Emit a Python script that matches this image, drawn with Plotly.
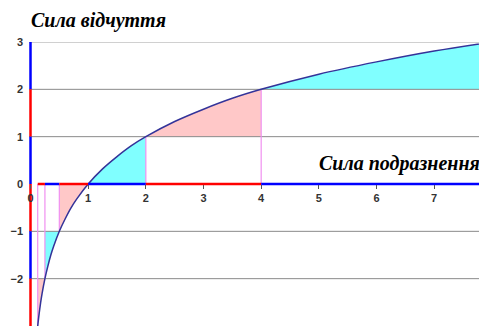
import plotly.graph_objects as go

# === Data ===
curve_x = [0.125, 0.15, 0.175, 0.2, 0.25, 0.3, 0.35, 0.4, 0.5, 0.6, 0.7, 0.8, 1.0,
           1.25, 1.5, 1.75, 2.0, 2.5, 3.0, 3.5, 4.0, 5.0, 6.0, 7.0, 8.0]
curve_y = [-3.0, -2.74, -2.51, -2.32, -2.0, -1.74, -1.51, -1.32, -1.0, -0.74, -0.51, -0.32, 0.0,
           0.32, 0.58, 0.81, 1.0, 1.32, 1.58, 1.81, 2.0, 2.32, 2.58, 2.81, 3.0]

# shaded pieces between the curve and a level line
fill_from = [0.125, 0.25, 0.5, 1, 2, 4]
fill_to = [0.25, 0.5, 1, 2, 4, 8]
fill_level = [-2, -1, 0, 0, 1, 2]
fill_colors = ["#ffc8c8", "#80ffff", "#ffc8c8", "#80ffff", "#ffc8c8", "#80ffff"]

# vertical drop lines from the x axis to the curve
drop_x = [0.125, 0.25, 0.5, 2, 4]
drop_y = [-3, -2, -1, 1, 2]

# coloured pieces of the axes
x_seg_bounds = [0.125, 0.25, 0.5, 1, 2, 4, 8]
x_seg_colors = ["#ff0000", "#0000ff", "#ff0000", "#0000ff", "#ff0000", "#0000ff"]
y_seg_bounds = [3, 2, 1, 0, -1, -2, -3]
y_seg_colors = ["#0000ff", "#ff0000", "#0000ff", "#ff0000", "#0000ff", "#ff0000"]

x_ticks = [0, 1, 2, 3, 4, 5, 6, 7]
y_ticks = [-3, -2, -1, 0, 1, 2, 3]

fig = go.Figure()

# fills
for lo, hi, lev, col in zip(fill_from, fill_to, fill_level, fill_colors):
    xs = [x for x in curve_x if lo <= x <= hi]
    ys = [y for x, y in zip(curve_x, curve_y) if lo <= x <= hi]
    fig.add_trace(go.Scatter(x=[lo, hi], y=[lev, lev], mode="lines",
                             line=dict(width=0), hoverinfo="skip"))
    fig.add_trace(go.Scatter(x=xs, y=ys, mode="lines", line=dict(width=0),
                             fill="tonexty", fillcolor=col, hoverinfo="skip"))

# gridlines on top of the fills
for yv in [2, 1, -1, -2]:
    fig.add_trace(go.Scatter(x=[-0.1, 8.5], y=[yv, yv], mode="lines",
                             line=dict(color="#8a8a8a", width=1), hoverinfo="skip"))
fig.add_trace(go.Scatter(x=[-0.1, 8.5], y=[3, 3], mode="lines",
                         line=dict(color="#d0d0d0", width=2), hoverinfo="skip"))

# drop lines
for dx, dy in zip(drop_x, drop_y):
    fig.add_trace(go.Scatter(x=[dx, dx], y=[0, dy], mode="lines",
                             line=dict(color="#f090f0", width=1.2), hoverinfo="skip"))

# the curve
fig.add_trace(go.Scatter(x=curve_x, y=curve_y, mode="lines", line_shape="spline",
                         line=dict(color="#333399", width=1.5)))

# coloured axes
for i, col in enumerate(x_seg_colors):
    fig.add_trace(go.Scatter(x=[x_seg_bounds[i], x_seg_bounds[i + 1]], y=[0, 0], mode="lines",
                             line=dict(color=col, width=2.5), hoverinfo="skip"))
for i, col in enumerate(y_seg_colors):
    fig.add_trace(go.Scatter(x=[0, 0], y=[y_seg_bounds[i], y_seg_bounds[i + 1]], mode="lines",
                             line=dict(color=col, width=2.5), hoverinfo="skip"))

tick_font = dict(family="Liberation Sans, Arial", size=11, color="#333333", weight="bold")

# page body has an 8px margin, so the figure is a bit smaller and shifted
fig.update_layout(
    width=479, height=318,
    margin=dict(l=21, r=0, t=34, b=0),
    paper_bgcolor="white", plot_bgcolor="white",
    showlegend=False,
    xaxis=dict(range=[-0.026, 7.916], tickvals=x_ticks, showgrid=False, zeroline=False,
               showline=False, ticks="outside", ticklen=4, tickcolor="#555555",
               anchor="free", position=0.5, tickfont=tick_font, automargin=False),
    yaxis=dict(range=[-3, 3], tickvals=y_ticks, showgrid=False, zeroline=False,
               showline=False, ticks="", ticklabelstandoff=5, tickfont=tick_font,
               automargin=False),
)

title_font = dict(family="Liberation Serif, Times New Roman", size=20, color="black",
                  weight="bold", style="italic")
fig.add_annotation(text="Сила відчуття", xref="paper", yref="paper",
                   x=0.0, y=1.0, yshift=22, xanchor="left", yanchor="middle",
                   showarrow=False, font=title_font)
fig.add_annotation(text="Сила подразнення", xref="paper", yref="paper",
                   x=0.99, y=0.5, yshift=21, xanchor="right", yanchor="middle",
                   showarrow=False, font=title_font)

fig.write_html("out.html")
